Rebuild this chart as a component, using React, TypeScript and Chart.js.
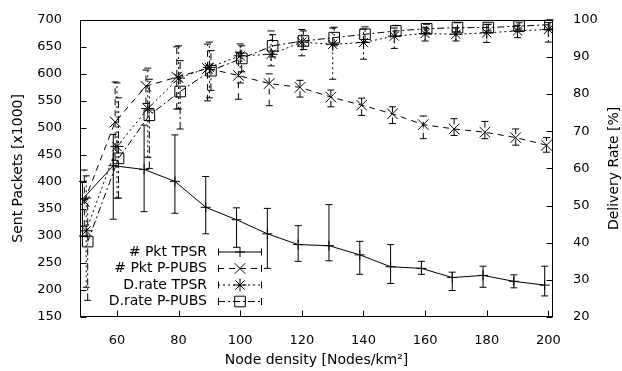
import React, { useEffect, useRef } from 'react';
import { Chart, registerables } from 'chart.js';

Chart.register(...registerables);

// ---- data ----
const densities = [50, 60, 70, 80, 90, 100, 110, 120, 130, 140, 150, 160, 170, 180, 190, 200];

const pktTpsr = [368, 430, 423, 401, 353, 330, 304, 284, 282, 265, 243, 240, 223, 227, 216, 209];
const pktTpsrLow = [300, 331, 345, 342, 304, 279, 240, 253, 254, 229, 212, 229, 199, 205, 204, 189];
const pktTpsrHigh = [401, 488, 505, 487, 410, 352, 351, 319, 358, 290, 284, 253, 233, 244, 228, 244];

const pktPpubs = [364, 511, 577, 594, 610, 597, 582, 575, 557, 542, 526, 506, 498, 492, 482, 468];
const pktPpubsLow = [318, 440, 545, 535, 550, 553, 541, 557, 539, 523, 508, 480, 486, 480, 468, 455];
const pktPpubsHigh = [422, 585, 607, 650, 655, 640, 600, 588, 570, 555, 539, 522, 517, 512, 498, 482];

const drTpsr = [43.2, 65.9, 76.1, 84.3, 87.2, 90.3, 90.7, 94.0, 93.4, 93.9, 95.6, 96.3, 96.1, 96.5, 97.0, 97.4];
const drTpsrLow = [28, 52, 63, 76, 79, 83, 87.6, 90.3, 84, 89.4, 92.3, 94.3, 94.3, 93.9, 95.2, 94];
const drTpsrHigh = [58, 83, 87, 93, 94, 93.5, 97, 97.4, 97.8, 97.5, 97.8, 98, 97.8, 98.7, 98.5, 99.3];

const drPpubs = [40.3, 62.7, 74.3, 80.7, 86.3, 89.6, 93.0, 94.3, 95.2, 96.1, 97.0, 97.6, 97.9, 97.9, 98.3, 98.7];
const drPpubsLow = [24.5, 52, 60, 70.6, 81, 86, 90, 92, 93, 94, 95.5, 96.5, 96.8, 97, 97.5, 97.5];
const drPpubsHigh = [52, 79, 84, 89, 91.7, 93, 96, 97, 98, 98.1, 98.5, 98.8, 99.2, 98.8, 99.2, 100];

const xTicks = [60, 80, 100, 120, 140, 160, 180, 200];
const yTicks = [150, 200, 250, 300, 350, 400, 450, 500, 550, 600, 650, 700];
const y2Ticks = [20, 30, 40, 50, 60, 70, 80, 90, 100];

const seriesLabels = ['# Pkt TPSR', '# Pkt P-PUBS', 'D.rate TPSR', 'D.rate P-PUBS'];
const xTitle = 'Node density [Nodes/km\u00B2]';
const yTitle = 'Sent Packets [x1000]';
const y2Title = 'Delivery Rate [%]';

const FONT = '"DejaVu Sans", sans-serif';

type Series = {
  label: string;
  values: number[];
  low: number[];
  high: number[];
  axis: 'y' | 'y2';
  shift: number;
  dash: number[];
  style: string;
  radius: number;
};

const series: Series[] = [
  { label: seriesLabels[0], values: pktTpsr, low: pktTpsrLow, high: pktTpsrHigh, axis: 'y', shift: -1.2, dash: [], style: 'cross', radius: 5 },
  { label: seriesLabels[1], values: pktPpubs, low: pktPpubsLow, high: pktPpubsHigh, axis: 'y', shift: -0.6, dash: [6, 5], style: 'crossRot', radius: 7.5 },
  { label: seriesLabels[2], values: drTpsr, low: drTpsrLow, high: drTpsrHigh, axis: 'y2', shift: 0, dash: [2, 3], style: 'star', radius: 6.5 },
  { label: seriesLabels[3], values: drPpubs, low: drPpubsLow, high: drPpubsHigh, axis: 'y2', shift: 0.5, dash: [7, 3, 2, 3], style: 'rect', radius: 7.5 },
];

function drawMarker(ctx: CanvasRenderingContext2D, style: string, r: number, x: number, y: number) {
  ctx.beginPath();
  const d = r * Math.SQRT1_2;
  if (style === 'cross' || style === 'star') {
    ctx.moveTo(x - r, y); ctx.lineTo(x + r, y);
    ctx.moveTo(x, y - r); ctx.lineTo(x, y + r);
  }
  if (style === 'crossRot' || style === 'star') {
    ctx.moveTo(x - d, y - d); ctx.lineTo(x + d, y + d);
    ctx.moveTo(x - d, y + d); ctx.lineTo(x + d, y - d);
  }
  if (style === 'rect') {
    ctx.rect(x - d, y - d, 2 * d, 2 * d);
  }
  ctx.stroke();
}

const errorBarPlugin = {
  id: 'errorBars',
  beforeDatasetsDraw(chart: any) {
    const { ctx, scales } = chart;
    ctx.save();
    ctx.strokeStyle = '#000';
    ctx.lineWidth = 1;
    series.forEach((s) => {
      const ys = scales[s.axis];
      densities.forEach((d, i) => {
        const px = scales.x.getPixelForValue(d + s.shift);
        const pLo = ys.getPixelForValue(s.low[i]);
        const pHi = ys.getPixelForValue(s.high[i]);
        ctx.setLineDash(s.dash);
        ctx.beginPath();
        ctx.moveTo(px, pLo);
        ctx.lineTo(px, pHi);
        ctx.stroke();
        ctx.setLineDash([]);
        ctx.beginPath();
        ctx.moveTo(px - 3.5, pLo); ctx.lineTo(px + 3.5, pLo);
        ctx.moveTo(px - 3.5, pHi); ctx.lineTo(px + 3.5, pHi);
        ctx.stroke();
      });
    });
    ctx.restore();
  },
};

const framePlugin = {
  id: 'frameAndText',
  afterDraw(chart: any) {
    const { ctx, chartArea: a, scales } = chart;
    ctx.save();
    ctx.setLineDash([]);
    ctx.strokeStyle = '#000';
    ctx.lineWidth = 1;
    const L = Math.round(a.left) + 0.5;
    const R = Math.round(a.right) - 0.5;
    const T = Math.round(a.top) + 0.5;
    const B = Math.round(a.bottom) - 0.5;
    ctx.strokeRect(L, T, R - L, B - T);
    ctx.beginPath();
    xTicks.forEach((v) => {
      const px = Math.round(scales.x.getPixelForValue(v)) + 0.5;
      ctx.moveTo(px, B); ctx.lineTo(px, B - 6);
    });
    yTicks.forEach((v) => {
      const py = Math.round(scales.y.getPixelForValue(v)) + 0.5;
      ctx.moveTo(L, py); ctx.lineTo(L + 6, py);
    });
    y2Ticks.forEach((v) => {
      const py = Math.round(scales.y2.getPixelForValue(v)) + 0.5;
      ctx.moveTo(R, py); ctx.lineTo(R - 6, py);
    });
    ctx.stroke();

    // axis titles
    ctx.fillStyle = '#000';
    ctx.font = `14px ${FONT}`;
    ctx.textAlign = 'center';
    ctx.textBaseline = 'middle';
    const cy = (a.top + a.bottom) / 2;
    ctx.fillText(xTitle, (a.left + a.right) / 2, 360);
    ctx.save();
    ctx.translate(18, cy);
    ctx.rotate(-Math.PI / 2);
    ctx.fillText(yTitle, 0, 0);
    ctx.restore();
    ctx.save();
    ctx.translate(614, cy);
    ctx.rotate(-Math.PI / 2);
    ctx.fillText(y2Title, 0, 0);
    ctx.restore();

    // legend
    const rows = [252, 268.5, 285, 301.5];
    series.forEach((s, i) => {
      const y = rows[i];
      ctx.textAlign = 'right';
      ctx.fillText(s.label, 207, y);
      ctx.setLineDash(s.dash);
      ctx.beginPath();
      ctx.moveTo(218, y); ctx.lineTo(262, y);
      ctx.stroke();
      ctx.setLineDash([]);
      ctx.beginPath();
      ctx.moveTo(218.5, y - 3.5); ctx.lineTo(218.5, y + 3.5);
      ctx.moveTo(261.5, y - 3.5); ctx.lineTo(261.5, y + 3.5);
      ctx.stroke();
      drawMarker(ctx, s.style, s.radius, 240, y);
    });
    ctx.restore();
  },
};

export default function App() {
  const ref = useRef<HTMLCanvasElement | null>(null);

  useEffect(() => {
    document.body.style.margin = '0';
    const canvas = ref.current;
    if (!canvas) return;
    const tickFont = { family: FONT, size: 13 };
    const chart = new Chart(canvas, {
      type: 'line',
      data: {
        datasets: series.map((s) => ({
          label: s.label,
          data: densities.map((d, i) => ({ x: d + s.shift, y: s.values[i] })),
          yAxisID: s.axis,
          borderColor: '#000',
          borderWidth: 1,
          borderDash: s.dash,
          backgroundColor: 'rgba(0,0,0,0)',
          pointStyle: s.style as any,
          pointRadius: s.radius,
          pointBorderColor: '#000',
          pointBackgroundColor: 'rgba(0,0,0,0)',
          pointBorderWidth: 1,
          fill: false,
          tension: 0,
        })),
      },
      options: {
        responsive: false,
        animation: false,
        events: [],
        devicePixelRatio: 1,
        layout: { padding: { top: 17, left: 0, right: 0, bottom: 0 } },
        plugins: {
          legend: { display: false },
          tooltip: { enabled: false },
          title: { display: false },
        },
        scales: {
          x: {
            type: 'linear',
            min: 48,
            max: 201.5,
            grid: { display: false },
            border: { display: false },
            ticks: { autoSkip: false, maxRotation: 0, padding: 8, font: tickFont, color: '#000', callback: (v: any) => String(v) },
            afterBuildTicks: (s: any) => { s.ticks = xTicks.map((v) => ({ value: v })); },
            afterFit: (s: any) => { s.height = 54; },
          },
          y: {
            type: 'linear',
            position: 'left',
            min: 150,
            max: 700,
            grid: { display: false },
            border: { display: false },
            ticks: { padding: 10, font: tickFont, color: '#000', callback: (v: any) => String(v) },
            afterBuildTicks: (s: any) => { s.ticks = yTicks.map((v) => ({ value: v })); },
            afterFit: (s: any) => { s.width = 80; },
          },
          y2: {
            type: 'linear',
            position: 'right',
            min: 20,
            max: 100,
            grid: { display: false },
            border: { display: false },
            ticks: { padding: 12, font: tickFont, color: '#000', callback: (v: any) => String(v) },
            afterBuildTicks: (s: any) => { s.ticks = y2Ticks.map((v) => ({ value: v })); },
            afterFit: (s: any) => { s.width = 69; },
          },
        },
      },
      plugins: [errorBarPlugin, framePlugin],
    });
    return () => chart.destroy();
  }, []);

  return (
    <div style={{ width: 622, height: 371, background: '#fff' }}>
      <canvas ref={ref} width={622} height={371} style={{ display: 'block' }} />
    </div>
  );
}
